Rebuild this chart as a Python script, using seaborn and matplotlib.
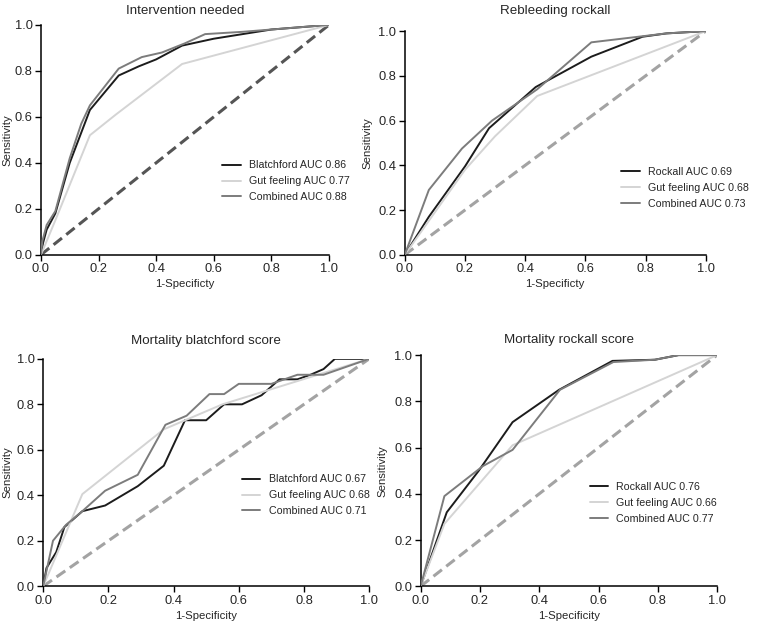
import pandas as pd
import matplotlib
matplotlib.use("Agg")
import matplotlib.pyplot as plt
import seaborn as sns

sns.set_style("ticks")
plt.rcParams["font.family"] = ["Liberation Sans", "DejaVu Sans"]

# ---- data (1-specificity, sensitivity) ----
# Intervention needed
int_blatch_x = [0, 0.007, 0.02, 0.05, 0.10, 0.17, 0.27, 0.34, 0.40, 0.49, 0.60, 0.70, 0.80, 1.0]
int_blatch_y = [0, 0.05, 0.11, 0.18, 0.40, 0.63, 0.78, 0.82, 0.85, 0.91, 0.94, 0.96, 0.98, 1.0]
int_gut_x = [0, 0.05, 0.17, 0.26, 0.49, 1.0]
int_gut_y = [0, 0.15, 0.52, 0.61, 0.83, 1.0]
int_comb_x = [0, 0.005, 0.02, 0.05, 0.10, 0.14, 0.17, 0.27, 0.35, 0.42, 0.50, 0.57, 0.70, 0.80, 1.0]
int_comb_y = [0, 0.06, 0.13, 0.19, 0.42, 0.57, 0.65, 0.81, 0.86, 0.88, 0.92, 0.96, 0.97, 0.98, 1.0]

# Rebleeding rockall
reb_rock_x = [0, 0.08, 0.20, 0.28, 0.435, 0.62, 0.79, 0.87, 1.0]
reb_rock_y = [0, 0.17, 0.395, 0.566, 0.75, 0.886, 0.975, 0.99, 1.0]
reb_gut_x = [0, 0.20, 0.30, 0.44, 1.0]
reb_gut_y = [0, 0.38, 0.53, 0.71, 1.0]
reb_comb_x = [0, 0.08, 0.19, 0.29, 0.44, 0.62, 0.87, 1.0]
reb_comb_y = [0, 0.29, 0.475, 0.60, 0.74, 0.95, 0.99, 1.0]

# Mortality blatchford score
mb_blatch_x = [0, 0.01, 0.04, 0.065, 0.12, 0.19, 0.29, 0.37, 0.435, 0.50, 0.555, 0.61,
               0.67, 0.725, 0.78, 0.82, 0.86, 0.895, 0.945, 1.0]
mb_blatch_y = [0, 0.08, 0.15, 0.26, 0.33, 0.355, 0.44, 0.53, 0.73, 0.73, 0.80, 0.80,
               0.84, 0.91, 0.91, 0.93, 0.955, 1.0, 1.0, 1.0]
mb_gut_x = [0, 0.12, 0.37, 0.55, 1.0]
mb_gut_y = [0, 0.405, 0.69, 0.80, 1.0]
mb_comb_x = [0, 0.03, 0.07, 0.12, 0.19, 0.29, 0.375, 0.44, 0.51, 0.555, 0.60, 0.70,
             0.78, 0.86, 1.0]
mb_comb_y = [0, 0.20, 0.27, 0.33, 0.42, 0.49, 0.71, 0.75, 0.845, 0.845, 0.89, 0.89,
             0.93, 0.93, 1.0]

# Mortality rockall score
mr_rock_x = [0, 0.088, 0.196, 0.31, 0.467, 0.647, 0.79, 0.87, 1.0]
mr_rock_y = [0, 0.32, 0.50, 0.71, 0.85, 0.975, 0.98, 1.0, 1.0]
mr_gut_x = [0, 0.08, 0.31, 1.0]
mr_gut_y = [0, 0.27, 0.61, 1.0]
mr_comb_x = [0, 0.08, 0.21, 0.31, 0.47, 0.65, 0.79, 0.87, 1.0]
mr_comb_y = [0, 0.39, 0.52, 0.59, 0.85, 0.97, 0.98, 1.0, 1.0]

panels = [
    dict(title="Intervention needed", xlabel="1-Specificty",
         series=[("Blatchford AUC 0.86", int_blatch_x, int_blatch_y),
                 ("Gut feeling AUC 0.77", int_gut_x, int_gut_y),
                 ("Combined AUC 0.88", int_comb_x, int_comb_y)],
         rect=[0.054, 0.591, 0.380, 0.369], diag="#555555", pad=8,
         leg=(0.63, 0.32), ylab=-0.10),
    dict(title="Rebleeding rockall", xlabel="1-Specificty",
         series=[("Rockall AUC 0.69", reb_rock_x, reb_rock_y),
                 ("Gut feeling AUC 0.68", reb_gut_x, reb_gut_y),
                 ("Combined AUC 0.73", reb_comb_x, reb_comb_y)],
         rect=[0.534, 0.591, 0.397, 0.359], diag="#a3a3a3", pad=12,
         leg=(0.72, 0.30), ylab=-0.108),
    dict(title="Mortality blatchford score", xlabel="1-Specificity",
         series=[("Blatchford AUC 0.67", mb_blatch_x, mb_blatch_y),
                 ("Gut feeling AUC 0.68", mb_gut_x, mb_gut_y),
                 ("Combined AUC 0.71", mb_comb_x, mb_comb_y)],
         rect=[0.057, 0.059, 0.430, 0.365], diag="#a3a3a3", pad=11,
         leg=(0.61, 0.40), ylab=-0.094),
    dict(title="Mortality rockall score", xlabel="1-Specificity",
         series=[("Rockall AUC 0.76", mr_rock_x, mr_rock_y),
                 ("Gut feeling AUC 0.66", mr_gut_x, mr_gut_y),
                 ("Combined AUC 0.77", mr_comb_x, mr_comb_y)],
         rect=[0.555, 0.059, 0.391, 0.371], diag="#a3a3a3", pad=9,
         leg=(0.57, 0.36), ylab=-0.113),
]

line_colors = ["#1c1c1c", "#d4d4d4", "#7c7c7c"]

fig = plt.figure(figsize=(7.58, 6.23), dpi=100)

for p in panels:
    ax = fig.add_axes(p["rect"])
    rows = []
    for name, xs, ys in p["series"]:
        for i, (x, y) in enumerate(zip(xs, ys)):
            rows.append({"fpr": x, "tpr": y, "curve": name, "order": i})
    df = pd.DataFrame(rows)
    names = [s[0] for s in p["series"]]

    # reference diagonal
    ax.plot([0, 1], [0, 1], ls="--", color=p["diag"], lw=2.2, dashes=(3.5, 1.8), zorder=1)

    sns.lineplot(data=df, x="fpr", y="tpr", hue="curve", hue_order=names,
                 palette=dict(zip(names, line_colors)), sort=False, estimator=None,
                 lw=1.4, ax=ax, zorder=3)

    ax.set_xlim(0, 1)
    ax.set_ylim(0, 1)
    ax.set_xticks([0, 0.2, 0.4, 0.6, 0.8, 1.0])
    ax.set_yticks([0, 0.2, 0.4, 0.6, 0.8, 1.0])
    ax.set_xticklabels(["0.0", "0.2", "0.4", "0.6", "0.8", "1.0"])
    ax.set_yticklabels(["0.0", "0.2", "0.4", "0.6", "0.8", "1.0"])
    ax.tick_params(labelsize=9.3, length=4, width=1, pad=2, color="black")
    for s in ["top", "right"]:
        ax.spines[s].set_visible(False)
    for s in ["left", "bottom"]:
        ax.spines[s].set_color("black")
        ax.spines[s].set_linewidth(1.1)
    ax.set_title(p["title"], fontsize=9.6, pad=p["pad"])
    ax.set_xlabel(p["xlabel"], fontsize=8.2, labelpad=3)
    ax.set_ylabel("Sensitivity", fontsize=8.2)
    ax.yaxis.set_label_coords(p["ylab"], 0.5)

    ax.legend(loc="center left", bbox_to_anchor=p["leg"], frameon=False,
              fontsize=7.7, handlelength=1.7, handletextpad=0.8,
              labelspacing=0.55, borderpad=0, borderaxespad=0)

fig.savefig("out.png", dpi=100)
